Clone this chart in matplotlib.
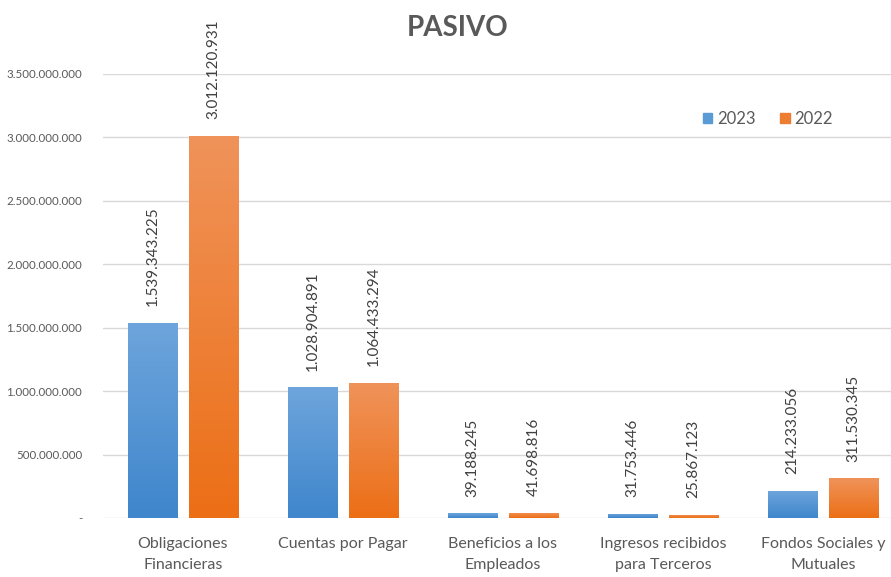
import numpy as np
import matplotlib
matplotlib.use("Agg")
import matplotlib.pyplot as plt
from matplotlib.colors import LinearSegmentedColormap

plt.rcParams['font.family'] = ['Lato', 'DejaVu Sans']

categories = ["Obligaciones\nFinancieras", "Cuentas por Pagar", "Beneficios a los\nEmpleados",
              "Ingresos recibidos\npara Terceros", "Fondos Sociales y\nMutuales"]
values_2023 = [1539343225, 1028904891, 39188245, 31753446, 214233056]
values_2022 = [3012120931, 1064433294, 41698816, 25867123, 311530345]
yticks = [0, 500000000, 1000000000, 1500000000, 2000000000, 2500000000, 3000000000, 3500000000]


def fmt(v):
    if v == 0:
        return "-"
    return "{:,}".format(int(v)).replace(",", ".")


fig = plt.figure(figsize=(8.91, 5.77), dpi=100)
ax = fig.add_axes([103 / 891, 59 / 577, 800 / 891, 444 / 577])

x = np.arange(len(categories))
w = 0.31
off = 0.19
blue_cmap = LinearSegmentedColormap.from_list("b", ["#3f86cc", "#6ea5dc"])
orange_cmap = LinearSegmentedColormap.from_list("o", ["#ec6f16", "#f0935a"])
grad = np.linspace(0, 1, 100).reshape(-1, 1)

for vals, dx, cmap, col in [(values_2023, -off, blue_cmap, "#5b9bd5"),
                            (values_2022, off, orange_cmap, "#ed7d31")]:
    bars = ax.bar(x + dx, vals, width=w, color=col, zorder=2)
    for b, v in zip(bars, vals):
        x0 = b.get_x()
        im = ax.imshow(grad, cmap=cmap, origin="lower", aspect="auto",
                       extent=[x0, x0 + b.get_width(), 0, max(v, 1)], zorder=3)
        im.set_clip_path(b)
        ax.text(b.get_x() + b.get_width() / 2, v + 130000000, fmt(v), rotation=90,
                ha="center", va="bottom", fontsize=11, color="#404040", zorder=4)

ax.set_xlim(-0.5, 4.5)
ax.set_ylim(0, 3500000000)
ax.set_yticks(yticks)
ax.set_yticklabels([fmt(v) for v in yticks], fontsize=8.3, color="#595959")
ax.set_xticks(x)
ax.set_xticklabels(categories, fontsize=11.5, color="#595959", linespacing=1.6)
ax.tick_params(axis="both", length=0)
ax.tick_params(axis="y", pad=15)
ax.tick_params(axis="x", pad=14)
ax.grid(axis="y", color="#d9d9d9", linewidth=1, zorder=0)
ax.set_axisbelow(True)
for s in ax.spines.values():
    s.set_visible(False)

h1 = plt.Rectangle((0, 0), 1, 1, color="#5b9bd5")
h2 = plt.Rectangle((0, 0), 1, 1, color="#ed7d31")
ax.legend([h1, h2], ["2023", "2022"], loc="center", bbox_to_anchor=(768 / 891, 1 - 119 / 577),
          bbox_transform=fig.transFigure, ncol=2, frameon=False, fontsize=12,
          handlelength=0.55, handleheight=0.55, handletextpad=0.3, columnspacing=1.5,
          labelcolor="#595959")

fig.text(458 / 891, 1 - 28 / 577, "PASIVO", ha="center", va="center", fontsize=20,
         fontweight="bold", color="#595959")

fig.savefig("out.png", dpi=100)
